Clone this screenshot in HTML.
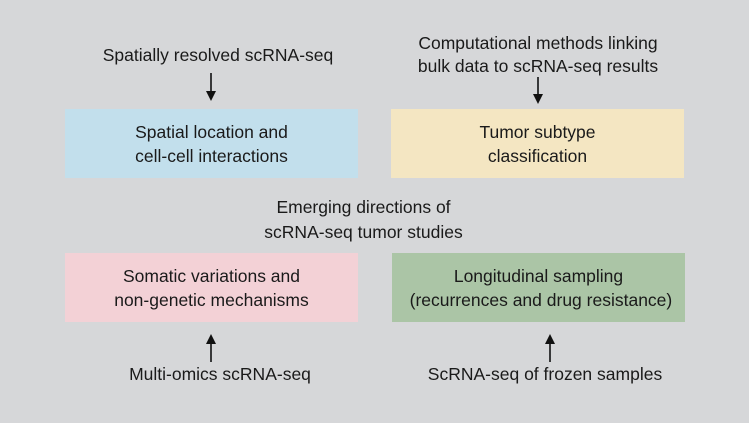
<!DOCTYPE html>
<html><head><style>
body{margin:0;width:749px;height:423px;background:#d6d7d9;position:relative;overflow:hidden;font-family:"Liberation Sans",Arial,sans-serif;color:#1a1a1a;font-size:17.5px;}
.t{position:absolute;text-align:center;line-height:23px;white-space:nowrap;}
.b{position:absolute;display:flex;align-items:center;justify-content:center;text-align:center;line-height:24px;width:293px;height:69px;white-space:nowrap;}
</style></head><body>
<div class="t" style="left:68px;width:300px;top:44px;">Spatially resolved scRNA-seq</div>
<div class="t" style="left:388px;width:300px;top:32px;">Computational methods linking<br>bulk data to scRNA-seq results</div>
<div class="b" style="left:65px;top:109px;background:#c2dfec;">Spatial location and<br>cell-cell interactions</div>
<div class="b" style="left:391px;top:109px;background:#f4e6c2;">Tumor subtype<br>classification</div>
<div class="t" style="left:189px;width:349px;top:195px;line-height:25px;">Emerging directions of<br>scRNA-seq tumor studies</div>
<div class="b" style="left:65px;top:253px;background:#f3d1d6;">Somatic variations and<br>non-genetic mechanisms</div>
<div class="b" style="left:392px;top:253px;background:#abc5a6;">Longitudinal sampling<br>&nbsp;(recurrences and drug resistance)</div>
<div class="t" style="left:70px;width:300px;top:363px;">Multi-omics scRNA-seq</div>
<div class="t" style="left:395px;width:300px;top:363px;">ScRNA-seq of frozen samples</div>
<svg width="749" height="423" style="position:absolute;left:0;top:0">
<g stroke="#111" stroke-width="1.6" fill="#111">
<line x1="211" y1="73" x2="211" y2="92"/><polygon points="206,91 216,91 211,101" stroke="none"/>
<line x1="538" y1="77" x2="538" y2="95"/><polygon points="533,94 543,94 538,104" stroke="none"/>
<line x1="211" y1="362" x2="211" y2="343"/><polygon points="206,344 216,344 211,334" stroke="none"/>
<line x1="550" y1="362" x2="550" y2="343"/><polygon points="545,344 555,344 550,334" stroke="none"/>
</g></svg>
</body></html>
